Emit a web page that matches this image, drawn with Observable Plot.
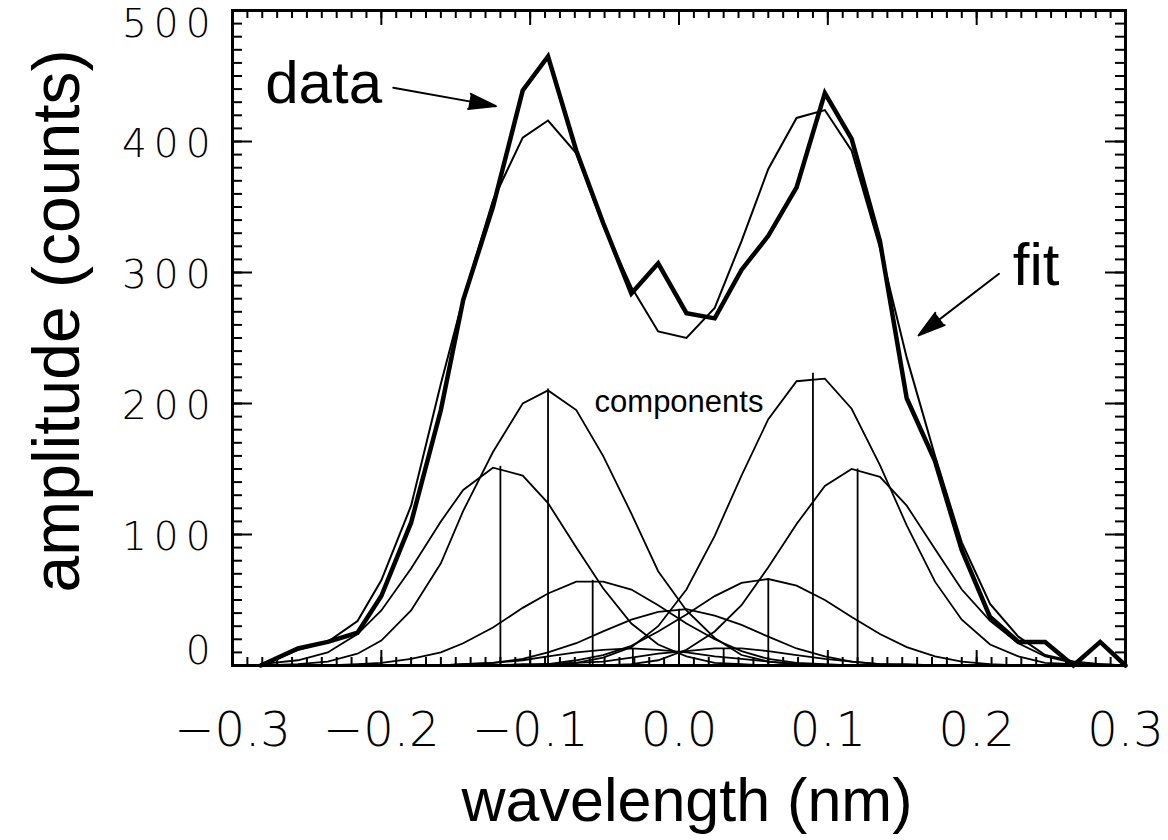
<!DOCTYPE html>
<html><head><meta charset="utf-8">
<script src="https://cdn.jsdelivr.net/npm/d3@7"></script>
<script src="https://cdn.jsdelivr.net/npm/@observablehq/plot@0.6"></script>
<style>
body{margin:0;background:#fff;}
#chart g[aria-label="y-axis tick label"] text{letter-spacing:7px;}
</style></head><body><div id="chart"></div><script>
// wavelength samples (nm)
const wavelength = [-0.281,-0.256,-0.236,-0.216,-0.200,-0.180,-0.160,-0.145,-0.125,-0.105,-0.088,-0.069,-0.051,-0.032,-0.014,0.005,0.024,0.042,0.060,0.079,0.098,0.116,0.135,0.153,0.172,0.190,0.209,0.228,0.246,0.265,0.283,0.300];
// measured data (counts)
const dataCounts = [0,13,18,25,53,109,195,279,350,439,465,393,338,284,307,269,265,302,328,365,437,402,324,204,156,88,37,18,18,0,18,0];
// fit (counts)
const fitCounts = [0,12,18,34,65,122,215,280,355,403,416,391,336,289,255,250,273,324,379,418,424,393,319,235,160,94,47,22,8,3,1,0];
// individual fit components (counts)
const compA = [1,4,10,24,42,74,110,134,151,145,124,90,59,32,16,7,2,1,0,0,0,0,0,0,0,0,0,0,0,0,0,0];
const compB = [0,1,3,9,19,42,78,118,163,200,210,195,160,116,72,42,21,8,3,1,0,0,0,0,0,0,0,0,0,0,0,0];
const compC = [0,0,0,1,2,5,10,17,29,44,55,64,64,58,46,32,20,11,5,2,1,0,0,0,0,0,0,0,0,0,0,0];
const compD = [0,0,0,0,0,0,0,1,2,4,7,10,12,13,12,10,7,5,3,1,0,0,0,0,0,0,0,0,0,0,0,0];
const compE = [0,0,0,0,0,0,0,1,2,5,10,17,26,35,41,43,38,31,22,13,7,3,1,0,0,0,0,0,0,0,0,0];
const compF = [0,0,0,0,0,0,0,0,0,0,1,2,3,6,9,11,13,13,11,8,5,3,1,1,0,0,0,0,0,0,0,0];
const compG = [0,0,0,0,0,0,0,0,0,1,1,4,8,15,26,39,53,63,66,61,50,37,24,14,7,3,1,0,0,0,0,0];
const compH = [0,0,0,0,0,0,0,0,0,0,1,2,6,14,30,58,99,145,188,217,219,196,153,107,64,35,16,7,2,1,0,0];
const compI = [0,0,0,0,0,0,0,0,0,0,0,0,0,1,4,12,26,46,75,108,137,150,144,122,89,58,34,17,7,2,1,0];
const componentNames = ["A","B","C","D","E","F","G","H","I"];
const componentValues = [compA,compB,compC,compD,compE,compF,compG,compH,compI];
const componentCenters = [-0.120,-0.088,-0.058,-0.031,0.000,0.030,0.060,0.090,0.120];
const componentPeaks = [152,211,65,13,43,13,66,223,150];
// axis ticks
const xMajorTicks = [-0.3,-0.2,-0.1,0.0,0.1,0.2,0.3];
const xMinorTicks = d3.ticks(-0.3, 0.3, 60);
const yMajorTicks = [0,100,200,300,400,500];
const yMinorTicks = d3.ticks(0, 500, 50);
// annotations
const labelNames = ["data","fit","components"];
const labelX = [-0.278, 0.240, 0.000];
const labelY = [444, 305, 201];
const arrowX1 = [-0.192, 0.215];
const arrowY1 = [441, 299];
const arrowX2 = [-0.123, 0.161];
const arrowY2 = [427, 252];

const rows = (ys) => ys.map((y, i) => ({x: wavelength[i], y}));
const compRows = componentValues.flatMap((vals, c) => vals.map((v, i) => ({comp: componentNames[c], x: wavelength[i], y: v})));

const W = 1168, H = 840, mL = 232, mR = 43, mT = 10, mB = 175;
const frameW = W - mL - mR, frameH = H - mT - mB;
const tickFont = "'DejaVu Sans', sans-serif";
const textFont = "'Liberation Sans', Arial, Helvetica, sans-serif";
const tk = {stroke: "black", strokeWidth: 2};

const chart = Plot.plot({
  width: W, height: H,
  marginLeft: mL, marginRight: mR, marginTop: mT, marginBottom: mB,
  style: {background: "white", color: "black", fontFamily: textFont},
  x: {domain: [-0.3, 0.3], axis: null},
  y: {domain: [0, 500], axis: null},
  marks: [
    Plot.line(compRows, {x: "x", y: "y", z: "comp", stroke: "black", strokeWidth: 1.8, strokeLinejoin: "miter", strokeMiterlimit: 4}),
    Plot.ruleX(componentCenters, {x: d => d, y1: 0, y2: (d, i) => componentPeaks[i], stroke: "black", strokeWidth: 1.8}),
    Plot.line(rows(fitCounts), {x: "x", y: "y", stroke: "black", strokeWidth: 2, strokeLinejoin: "miter", strokeMiterlimit: 4}),
    Plot.line(rows(dataCounts), {x: "x", y: "y", stroke: "black", strokeWidth: 4.5, strokeLinejoin: "miter", strokeMiterlimit: 4}),
    // inward ticks on all four sides
    Plot.ruleX(xMinorTicks, {x: d => d, insetTop: frameH - 8, ...tk}),
    Plot.ruleX(xMajorTicks, {x: d => d, insetTop: frameH - 15, ...tk}),
    Plot.ruleX(xMinorTicks, {x: d => d, insetBottom: frameH - 8, ...tk}),
    Plot.ruleX(xMajorTicks, {x: d => d, insetBottom: frameH - 15, ...tk}),
    Plot.ruleY(yMinorTicks, {y: d => d, insetRight: frameW - 10, ...tk}),
    Plot.ruleY(yMajorTicks, {y: d => d, insetRight: frameW - 20, ...tk}),
    Plot.ruleY(yMinorTicks, {y: d => d, insetLeft: frameW - 10, ...tk}),
    Plot.ruleY(yMajorTicks, {y: d => d, insetLeft: frameW - 20, ...tk}),
    // tick labels
    Plot.axisX({anchor: "bottom", ticks: xMajorTicks, tickSize: 0, tickPadding: 46, tickFormat: d3.format(".1f"), fontSize: 48, fontFamily: tickFont, fontWeight: 200, label: null}),
    Plot.axisY({anchor: "left", ticks: yMajorTicks.slice(1, 5), tickSize: 0, tickPadding: 15, dy: 3, fontSize: 39, fontFamily: tickFont, fontWeight: 200, label: null}),
    Plot.axisY({anchor: "left", ticks: yMajorTicks.slice(5), tickSize: 0, tickPadding: 15, dy: 14, fontSize: 39, fontFamily: tickFont, fontWeight: 200, label: null}),
    Plot.axisY({anchor: "left", ticks: yMajorTicks.slice(0, 1), tickSize: 0, tickPadding: 15, dy: -14, fontSize: 39, fontFamily: tickFont, fontWeight: 200, label: null}),
    Plot.frame({stroke: "black", strokeWidth: 3}),
    // axis titles
    Plot.text(["amplitude (counts)"], {frameAnchor: "left", textAnchor: "middle", rotate: -90, dx: -175, dy: -17, fontSize: 66, fill: "black"}),
    Plot.text(["wavelength (nm)"], {frameAnchor: "bottom", textAnchor: "middle", dx: 8, dy: 155, fontSize: 61, fill: "black"}),
    // annotations
    Plot.text([labelNames[0]], {x: labelX[0], y: labelY[0], textAnchor: "start", fontSize: 60, fill: "black"}),
    Plot.text([labelNames[1]], {x: labelX[1], y: labelY[1], fontSize: 60, fill: "black"}),
    Plot.text([labelNames[2]], {x: labelX[2], y: labelY[2], fontSize: 31, fill: "black"}),
    Plot.arrow(arrowX1, {x1: d => d, y1: (d, i) => arrowY1[i], x2: (d, i) => arrowX2[i], y2: (d, i) => arrowY2[i], stroke: "black", fill: "black", strokeWidth: 2, headLength: 21, headAngle: 32})
  ]
});
document.getElementById("chart").append(chart);
</script></body></html>
